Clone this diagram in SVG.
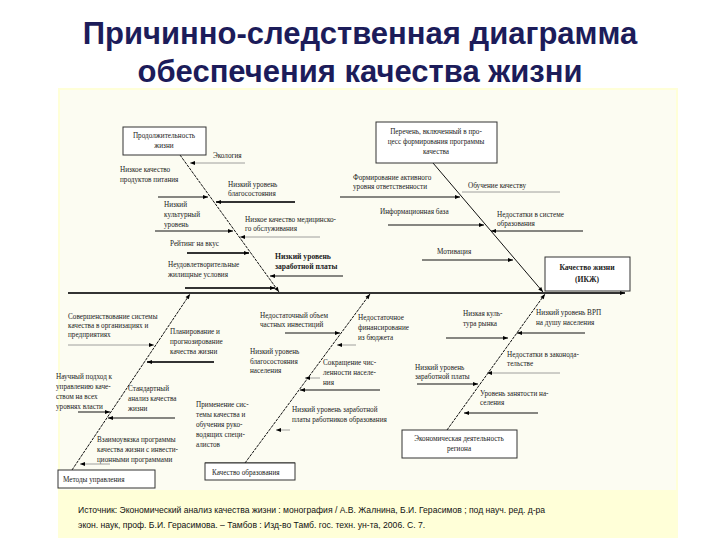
<svg xmlns="http://www.w3.org/2000/svg" width="720" height="540" viewBox="0 0 720 540">
<defs>
<marker id="a" viewBox="0 0 10 10" refX="10" refY="5" markerWidth="6" markerHeight="5" markerUnits="userSpaceOnUse" orient="auto"><path d="M0,1 L10,5 L0,9 z" fill="#000"/></marker>
<style>
.t{font-family:"Liberation Serif",serif;font-size:7.2px;fill:#222}
.b{font-weight:bold;font-size:7.6px}
.l{stroke:#111;stroke-width:1;fill:none}
.g{stroke:#888;stroke-width:0.8;fill:none}
.k{stroke:#333;stroke-width:2;fill:none}
.bx{fill:#fff;stroke:#333;stroke-width:1}
.tt{font-family:"Liberation Sans",Arial,sans-serif;font-size:31px;font-weight:bold;fill:#1c1c5a;text-anchor:middle}
.c{font-family:"Liberation Sans",Arial,sans-serif;font-size:8.6px;fill:#111}
</style>
</defs>
<rect width="720" height="540" fill="#fff"/>
<rect x="58" y="88" width="620" height="450" fill="#ffffd8"/>
<rect x="60" y="90" width="616" height="400" fill="#fcfcf2"/>
<text class="tt" x="360" y="44">Причинно-следственная диаграмма</text>
<text class="tt" x="360" y="82">обеспечения качества жизни</text>

<g id="connectors">
<line class="k" x1="68" y1="293" x2="625" y2="293" marker-end="url(#a)"/>
<line class="l" x1="180" y1="155" x2="279" y2="292" marker-end="url(#a)" stroke-dasharray="3,1"/>
<line class="l" x1="433" y1="163" x2="543" y2="292" marker-end="url(#a)"/>
<line class="l" x1="72" y1="470" x2="190" y2="294" marker-end="url(#a)" stroke-dasharray="3,1"/>
<line class="l" x1="245" y1="463" x2="370" y2="294" marker-end="url(#a)" stroke-dasharray="3,1"/>
<line class="l" x1="447" y1="430" x2="545" y2="294" marker-end="url(#a)" stroke-dasharray="3,1"/>

<line class="g" x1="245" y1="163" x2="190" y2="163" marker-end="url(#a)"/>
<line class="l" x1="158" y1="197" x2="208" y2="197" marker-end="url(#a)"/>
<line class="k" x1="295" y1="202" x2="216" y2="202" marker-end="url(#a)"/>
<line class="l" x1="155" y1="231" x2="233" y2="231" marker-end="url(#a)"/>
<line class="g" x1="320" y1="237" x2="240" y2="237" marker-end="url(#a)"/>
<line class="k" x1="187" y1="253" x2="249" y2="253" marker-end="url(#a)"/>
<line class="l" x1="343" y1="276" x2="270" y2="276" marker-end="url(#a)"/>
<line class="k" x1="185" y1="288" x2="275" y2="288" marker-end="url(#a)"/>

<line class="l" x1="340" y1="197" x2="460" y2="197" marker-end="url(#a)"/>
<line class="g" x1="560" y1="192" x2="462" y2="192"/>
<line class="l" x1="388" y1="225" x2="484" y2="225" marker-end="url(#a)"/>
<line class="l" x1="583" y1="231" x2="491" y2="231" marker-end="url(#a)"/>
<line class="l" x1="422" y1="260" x2="513" y2="260" marker-end="url(#a)"/>

<line class="g" x1="68" y1="345" x2="154" y2="345" marker-end="url(#a)"/>
<line class="k" x1="214" y1="362" x2="147" y2="362" marker-end="url(#a)"/>
<line class="l" x1="78" y1="412" x2="110" y2="412" marker-end="url(#a)"/>
<line class="l" x1="175" y1="418" x2="108" y2="418" marker-end="url(#a)"/>
<line class="g" x1="110" y1="464" x2="80" y2="464" marker-end="url(#a)"/>

<line class="l" x1="285" y1="333" x2="340" y2="333" marker-end="url(#a)"/>
<line class="g" x1="356" y1="345" x2="337" y2="345" marker-end="url(#a)"/>
<line class="g" x1="320" y1="378" x2="305" y2="378" marker-end="url(#a)"/>
<line class="l" x1="380" y1="390" x2="300" y2="390" marker-end="url(#a)"/>
<line class="g" x1="290" y1="430" x2="276" y2="430" marker-end="url(#a)"/>

<line class="l" x1="585" y1="333" x2="517" y2="333" marker-end="url(#a)"/>
<line class="l" x1="446" y1="338" x2="508" y2="338" marker-end="url(#a)"/>
<line class="g" x1="560" y1="373" x2="487" y2="373" marker-end="url(#a)"/>
<line class="l" x1="417" y1="384" x2="478" y2="384" marker-end="url(#a)"/>
<line class="l" x1="538" y1="413" x2="464" y2="413" marker-end="url(#a)"/>
<line class="l" x1="205" y1="463" x2="295" y2="463"/>
</g>

<g id="n-life"><rect class="bx" x="123" y="127" width="83" height="28"/><text class="t" x="164" y="138" text-anchor="middle">Продолжительность</text><text class="t" x="164" y="148" text-anchor="middle">жизни</text></g>
<g id="n-list"><rect class="bx" x="376" y="122" width="121" height="41"/><text class="t" x="436" y="134" text-anchor="middle">Перечень, включенный в про-</text><text class="t" x="436" y="144" text-anchor="middle">цесс формирования программы</text><text class="t" x="436" y="154" text-anchor="middle">качества</text></g>
<g id="n-quality"><rect class="bx" x="545" y="257" width="85" height="34"/><text class="t b" x="587" y="270" text-anchor="middle">Качество жизни</text><text class="t b" x="587" y="282" text-anchor="middle">(ИКЖ)</text></g>
<g id="n-methods"><rect class="bx" x="58" y="470" width="97" height="18"/><text class="t" x="63" y="482">Методы управления</text></g>
<g id="n-edu"><rect class="bx" x="205" y="463" width="90" height="17" stroke="none"/><text class="t" x="212" y="475">Качество образования</text></g>
<g id="n-econ"><rect class="bx" x="402" y="430" width="115" height="28"/><text class="t" x="459" y="441" text-anchor="middle">Экономическая деятельность</text><text class="t" x="459" y="451" text-anchor="middle">региона</text></g>

<g id="labels">
<text class="t" x="213" y="158">Экология</text>
<text class="t" x="120" y="172">Низкое качество</text><text class="t" x="120" y="182">продуктов питания</text>
<text class="t" x="228" y="187">Низкий уровень</text><text class="t" x="228" y="196">благосостояния</text>
<text class="t" x="164" y="207">Низкий</text><text class="t" x="164" y="217">культурный</text><text class="t" x="164" y="227">уровень</text>
<text class="t" x="245" y="222">Низкое качество медицинско-</text><text class="t" x="245" y="231">го обслуживания</text>
<text class="t" x="170" y="246">Рейтинг на вкус</text>
<text class="t b" x="275" y="259">Низкий уровень</text><text class="t b" x="275" y="269">заработной платы</text>
<text class="t" x="168" y="267">Неудовлетворительные</text><text class="t" x="168" y="277">жилищные условия</text>
<text class="t" x="353" y="180">Формирование активного</text><text class="t" x="353" y="189">уровня ответственности</text>
<text class="t" x="468" y="188">Обучение качеству</text>
<text class="t" x="380" y="214">Информационная база</text>
<text class="t" x="497" y="217">Недостатки в системе</text><text class="t" x="497" y="226">образования</text>
<text class="t" x="437" y="254">Мотивация</text>
<text class="t" x="68" y="319">Совершенствование системы</text><text class="t" x="68" y="328">качества в организациях и</text><text class="t" x="68" y="337">предприятиях</text>
<text class="t" x="170" y="334">Планирование и</text><text class="t" x="170" y="344">прогнозирование</text><text class="t" x="170" y="354">качества жизни</text>
<text class="t" x="56" y="379">Научный подход к</text><text class="t" x="56" y="389">управлению каче-</text><text class="t" x="56" y="399">ством на всех</text><text class="t" x="56" y="409">уровнях власти</text>
<text class="t" x="128" y="391">Стандартный</text><text class="t" x="128" y="401">анализ качества</text><text class="t" x="128" y="411">жизни</text>
<text class="t" x="97" y="442">Взаимоувязка программы</text><text class="t" x="97" y="452">качества жизни с инвести-</text><text class="t" x="97" y="462">ционными программами</text>
<text class="t" x="260" y="318">Недостаточный объем</text><text class="t" x="260" y="327">частных инвестиций</text>
<text class="t" x="358" y="320">Недостаточное</text><text class="t" x="358" y="330">финансирование</text><text class="t" x="358" y="340">из бюджета</text>
<text class="t" x="250" y="354">Низкий уровень</text><text class="t" x="250" y="364">благосостояния</text><text class="t" x="250" y="373">населения</text>
<text class="t" x="323" y="365">Сокращение чис-</text><text class="t" x="323" y="375">ленности населе-</text><text class="t" x="323" y="385">ния</text>
<text class="t" x="292" y="412">Низкий уровень заработной</text><text class="t" x="292" y="422">платы работников образования</text>
<text class="t" x="196" y="407">Применение сис-</text><text class="t" x="196" y="417">темы качества и</text><text class="t" x="196" y="427">обучения руко-</text><text class="t" x="196" y="437">водящих специ-</text><text class="t" x="196" y="447">алистов</text>
<text class="t" x="536" y="315">Низкий уровень ВРП</text><text class="t" x="536" y="325">на душу населения</text>
<text class="t" x="463" y="316">Низкая куль-</text><text class="t" x="463" y="326">тура рынка</text>
<text class="t" x="507" y="357">Недостатки в законода-</text><text class="t" x="507" y="366">тельстве</text>
<text class="t" x="415" y="370">Низкий уровень</text><text class="t" x="415" y="379">заработной платы</text>
<text class="t" x="480" y="396">Уровень занятости на-</text><text class="t" x="480" y="405">селения</text>
</g>
<text class="c" x="78" y="513">Источник: Экономический анализ качества жизни : монография / А.В. Жалнина, Б.И. Герасимов ; под науч. ред. д-ра</text>
<text class="c" x="78" y="528">экон. наук, проф. Б.И. Герасимова. – Тамбов : Изд-во Тамб. гос. техн. ун-та, 2006. С. 7.</text>
</svg>
